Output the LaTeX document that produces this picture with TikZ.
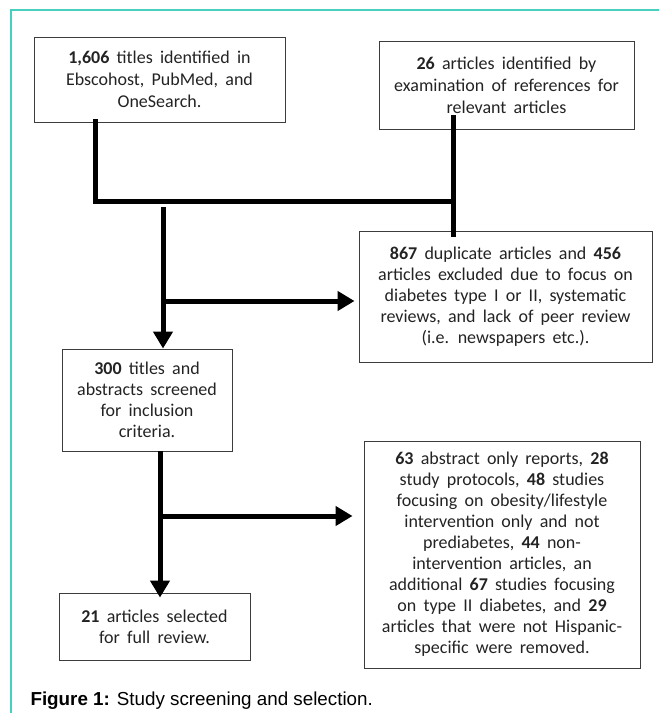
\documentclass[tikz,border=0pt]{standalone}
\usepackage{fontspec}
\setmainfont{Carlito}
\newfontfamily\capfont{Liberation Sans}
\usetikzlibrary{arrows.meta}
\definecolor{frameteal}{RGB}{72,208,190}
\definecolor{boxgray}{RGB}{60,60,60}
\definecolor{inkgray}{RGB}{35,35,35}
\newcommand\widespace{\spaceskip 0.4em plus 0.1em\relax}

\begin{document}
\begin{tikzpicture}[x=1pt, y=-1pt,
  box/.style={draw=boxgray, line width=0.9pt, align=center, inner sep=0pt, text=inkgray,
    font=\fontsize{18}{21}\selectfont\widespace},
  topbox/.style={box, font=\fontsize{18}{22}\selectfont\widespace},
  link/.style={line width=5pt},
  flow/.style={link, -{Triangle[width=19pt,length=17pt]}}]
\useasboundingbox (0,0) rectangle (659,713);
\draw[frameteal, line width=1.5pt] (11,713) -- (11,10) -- (659,10);

\node[topbox, minimum width=251pt, minimum height=85pt] (found) at (159.5,79.5)
  {\textbf{1,606} titles identified in\\Ebscohost, PubMed, and\\OneSearch.};
\node[topbox, minimum width=255pt, minimum height=88pt] (refs) at (506.5,85)
  {\textbf{26} articles identified by\\examination of references for\\relevant articles};
\node[box, minimum width=293pt, minimum height=131pt] (dupes) at (505.5,296.5)
  {\textbf{867} duplicate articles and \textbf{456}\\articles excluded due to focus on\\diabetes type I or II, systematic\\reviews, and lack of peer review\\(i.e. newspapers etc.).};
\node[box, minimum width=170pt, minimum height=102pt] (screen) at (147,400)
  {\textbf{300} titles and\\abstracts screened\\for inclusion\\criteria.};
\node[box, minimum width=276pt, minimum height=227pt] (removed) at (502,554.5)
  {\textbf{63} abstract only reports, \textbf{28}\\study protocols, \textbf{48} studies\\focusing on obesity/lifestyle\\intervention only and not\\prediabetes, \textbf{44} non-\\intervention articles, an\\additional \textbf{67} studies focusing\\on type II diabetes, and \textbf{29}\\articles that were not Hispanic-\\specific were removed.};
\node[box, minimum width=191pt, minimum height=67pt] (review) at (154.5,626.5)
  {\textbf{21} articles selected\\for full review.};

\coordinate (jl) at (95,201);
\coordinate (jr) at (453,201);
\coordinate (s1) at (163,301);
\coordinate (s2) at (160,516);
\draw[link] ([yshift=3pt]found.south -| jl) -- (jl) -- (jr);
\draw[link] ([yshift=14pt]refs.south -| jr) -- ([yshift=-6pt]dupes.north -| jr);
\draw[flow] (163,207) -- (screen.north -| s1);
\draw[flow] (s1) -- ([xshift=-4pt]dupes.west |- s1);
\draw[flow] (screen.south -| s2) -- ([yshift=-5pt]review.north -| s2);
\draw[flow] (s2) -- ([xshift=-11pt]removed.west |- s2);

\node[anchor=base west, font=\capfont\fontsize{18.8}{20}\selectfont] (caption) at (27,705)
  {\textbf{Figure 1:} Study screening and selection.};
\end{tikzpicture}
\end{document}
